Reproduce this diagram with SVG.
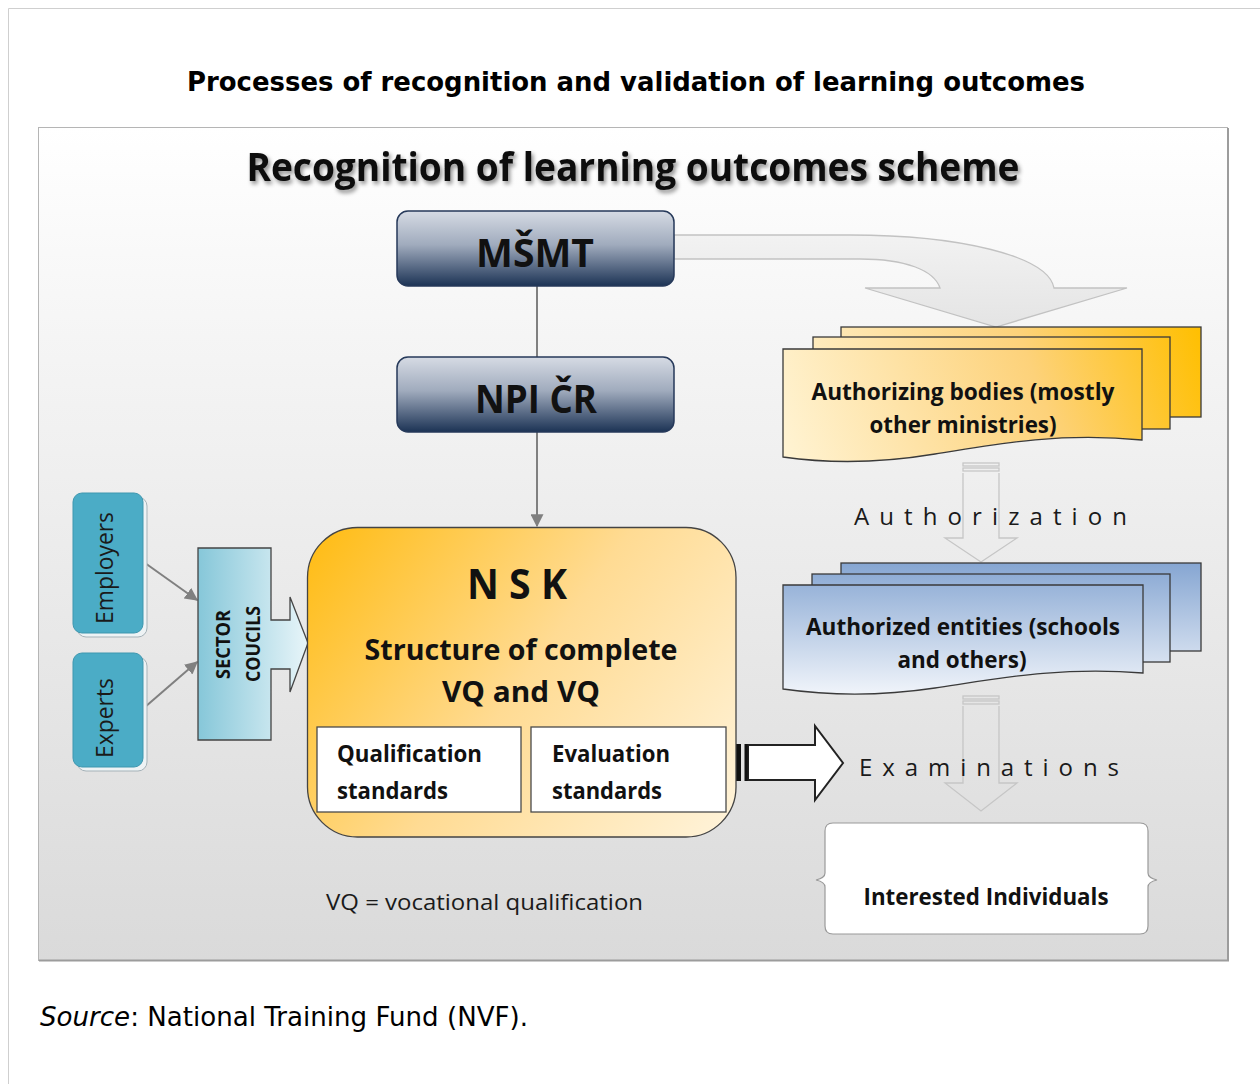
<svg xmlns="http://www.w3.org/2000/svg" width="1260" height="1084" viewBox="0 0 1260 1084">
  <style>
    .dv { font-family: "DejaVu Sans", sans-serif; fill: #000; }
    .cb { font-family: "Open Sans", "Noto Sans", sans-serif; font-weight: 700; fill: #111; }
    .cr { font-family: "Open Sans", "Noto Sans", sans-serif; font-weight: 400; fill: #1a1a1a; }
    .box-navy { fill: url(#navy); stroke: #26395a; stroke-width: 1.5; }
    .sheet-y { fill: url(#amber); stroke: #3a3a3a; stroke-width: 1.3; }
    .sheet-b { fill: url(#steel); stroke: #3a3a3a; stroke-width: 1.3; }
    .teal { fill: #4bacc6; stroke: #3f97af; stroke-width: 1; }
    .teal-edge { fill: #eef3f5; stroke: #a5b2b8; stroke-width: 1; }
    .link { stroke: #808080; stroke-width: 2; fill: none; }
    .hollow { fill: none; stroke: #c6c6c6; stroke-width: 1.3; }
    .std { fill: #fff; stroke: #4a4a4a; stroke-width: 1.3; }
  </style>
  <defs>
    <linearGradient id="bg" x1="0" y1="0" x2="0" y2="1">
      <stop offset="0" stop-color="#ffffff"/>
      <stop offset="0.25" stop-color="#f5f5f5"/>
      <stop offset="1" stop-color="#dadada"/>
    </linearGradient>
    <linearGradient id="navy" x1="0" y1="0" x2="0" y2="1">
      <stop offset="0" stop-color="#d6dbe4"/>
      <stop offset="0.45" stop-color="#a0abbd"/>
      <stop offset="1" stop-color="#1c3355"/>
    </linearGradient>
    <linearGradient id="amber" gradientUnits="userSpaceOnUse" x1="790" y1="465" x2="1200" y2="325">
      <stop offset="0" stop-color="#fff3d2"/>
      <stop offset="0.6" stop-color="#fdd27a"/>
      <stop offset="1" stop-color="#ffbf00"/>
    </linearGradient>
    <linearGradient id="steel" gradientUnits="userSpaceOnUse" x1="0" y1="563" x2="0" y2="694">
      <stop offset="0" stop-color="#86a6d2"/>
      <stop offset="1" stop-color="#f0f4fa"/>
    </linearGradient>
    <linearGradient id="nsk" gradientUnits="userSpaceOnUse" x1="307" y1="527" x2="736" y2="837">
      <stop offset="0" stop-color="#ffbb10"/>
      <stop offset="0.5" stop-color="#ffdb93"/>
      <stop offset="1" stop-color="#fff4dc"/>
    </linearGradient>
    <linearGradient id="sector" x1="0" y1="0" x2="1" y2="0">
      <stop offset="0" stop-color="#86c7d9"/>
      <stop offset="1" stop-color="#e8f5f9"/>
    </linearGradient>
    <linearGradient id="band" x1="0" y1="0" x2="0" y2="1">
      <stop offset="0" stop-color="#f2f2f2"/>
      <stop offset="1" stop-color="#e4e4e4"/>
    </linearGradient>
    <filter id="shadow" x="-5%" y="-30%" width="110%" height="160%">
      <feGaussianBlur in="SourceAlpha" stdDeviation="2.2"/>
      <feOffset dx="2" dy="3" result="b"/>
      <feFlood flood-color="#000" flood-opacity="0.45"/>
      <feComposite in2="b" operator="in"/>
      <feMerge><feMergeNode/><feMergeNode in="SourceGraphic"/></feMerge>
    </filter>
    <marker id="tip" viewBox="0 0 10 10" refX="9" refY="5" markerWidth="6.5" markerHeight="6.5" orient="auto">
      <path d="M0,0 L10,5 L0,10 Z" fill="#808080"/>
    </marker>
  </defs>

  <!-- page -->
  <rect x="0" y="0" width="1260" height="1084" fill="#fff"/>
  <path d="M8.5,1084 V8.5 H1260" fill="none" stroke="#cfcfcf" stroke-width="1"/>
  <text class="dv" x="636" y="91" font-size="26" font-weight="700" text-anchor="middle" textLength="898" lengthAdjust="spacingAndGlyphs">Processes of recognition and validation of learning outcomes</text>

  <!-- scheme panel -->
  <rect x="38.5" y="127.5" width="1189" height="833" fill="url(#bg)" stroke="#b5b5b5" stroke-width="1"/>
  <path d="M39,960.5 H1228 V128" fill="none" stroke="#9c9c9c" stroke-width="2"/>
  <text class="cb" x="633" y="181" font-size="39" text-anchor="middle" textLength="773" lengthAdjust="spacingAndGlyphs" filter="url(#shadow)">Recognition of learning outcomes scheme</text>

  <!-- connectors -->
  <g id="connectors">
    <line class="link" x1="537" y1="286" x2="537" y2="357"/>
    <line class="link" x1="537" y1="432" x2="537" y2="526" marker-end="url(#tip)"/>
    <line class="link" x1="145" y1="563" x2="197" y2="600" marker-end="url(#tip)"/>
    <line class="link" x1="145" y1="707" x2="197" y2="662" marker-end="url(#tip)"/>
    <!-- curved block arrow to the authorizing bodies -->
    <path d="M674,235 H850 C960,235 1048,256 1054,288 H1127 L996,327 L865,288 H940 C934,270 905,259 860,259 H674 Z" fill="url(#band)" stroke="#c2c2c2" stroke-width="1.3"/>
    <!-- hollow arrow: authorization -->
    <g class="hollow">
      <rect x="963" y="463" width="36" height="3"/>
      <rect x="963" y="468" width="36" height="3"/>
      <path d="M963,473 V538 H945 L981,562 L1017,538 H999 V473"/>
    </g>
    <!-- hollow arrow: examinations -->
    <g class="hollow">
      <rect x="963" y="696" width="36" height="3"/>
      <rect x="963" y="701" width="36" height="3"/>
      <path d="M963,706 V783 H945 L981,811 L1017,783 H999 V706"/>
    </g>
    <!-- striped block arrow out of NSK -->
    <path d="M748,745 H815 V726 L843,763 L815,800 V780 H748 Z" fill="#fff" stroke="#222" stroke-width="2"/>
    <rect x="735" y="744" width="6" height="37" fill="#111"/>
    <rect x="744.5" y="744" width="3" height="37" fill="#111"/>
  </g>

  <text class="cr" x="854" y="525" font-size="24" textLength="273" lengthAdjust="spacing">Authorization</text>
  <text class="cr" x="859" y="776" font-size="24" textLength="260" lengthAdjust="spacing">Examinations</text>

  <g id="msmt">
    <rect class="box-navy" x="397" y="211" width="277" height="75" rx="11"/>
    <text class="cb" x="535" y="267" font-size="39" text-anchor="middle" textLength="118" lengthAdjust="spacingAndGlyphs">MŠMT</text>
  </g>

  <g id="npi">
    <rect class="box-navy" x="397" y="357" width="277" height="75" rx="11"/>
    <text class="cb" x="536" y="413" font-size="39" text-anchor="middle" textLength="122" lengthAdjust="spacingAndGlyphs">NPI ČR</text>
  </g>

  <g id="authorizing-bodies">
    <rect class="sheet-y" x="841" y="327" width="360" height="90"/>
    <rect class="sheet-y" x="813" y="337" width="357" height="92"/>
    <path class="sheet-y" d="M783,349 H1142 V440 C1060,432 995,444 935,454 C875,464 825,463 783,457 Z"/>
    <text class="cb" x="963" y="400" font-size="24" text-anchor="middle" textLength="303" lengthAdjust="spacingAndGlyphs">Authorizing bodies (mostly</text>
    <text class="cb" x="963" y="433" font-size="24" text-anchor="middle" textLength="187" lengthAdjust="spacingAndGlyphs">other ministries)</text>
  </g>

  <g id="authorized-entities">
    <rect class="sheet-b" x="841" y="563" width="360" height="88"/>
    <rect class="sheet-b" x="812" y="574" width="358" height="88"/>
    <path class="sheet-b" d="M783,585 H1143 V673 C1060,666 995,679 935,688 C875,697 825,695 783,689 Z"/>
    <text class="cb" x="963" y="635" font-size="24" text-anchor="middle" textLength="314" lengthAdjust="spacingAndGlyphs">Authorized entities (schools</text>
    <text class="cb" x="962" y="668" font-size="24" text-anchor="middle" textLength="129" lengthAdjust="spacingAndGlyphs">and others)</text>
  </g>

  <g id="interested-individuals">
    <path d="M833,823 H1140 Q1148,823 1148,831 V873 Q1148,878 1157,880 Q1148,882 1148,887 V926 Q1148,934 1140,934 H833 Q825,934 825,926 V887 Q825,882 816,880 Q825,878 825,873 V831 Q825,823 833,823 Z" fill="#fff" stroke="#9a9a9a" stroke-width="1.2"/>
    <text class="cb" x="986" y="905" font-size="24" text-anchor="middle" textLength="245" lengthAdjust="spacingAndGlyphs">Interested Individuals</text>
  </g>

  <g id="employers">
    <rect class="teal-edge" x="77" y="497" width="70" height="140" rx="9"/>
    <rect class="teal" x="73" y="493" width="70" height="140" rx="9"/>
    <text class="cr" transform="translate(113,568) rotate(-90)" font-size="23" text-anchor="middle" textLength="112" lengthAdjust="spacingAndGlyphs">Employers</text>
  </g>

  <g id="experts">
    <rect class="teal-edge" x="77" y="657" width="70" height="114" rx="9"/>
    <rect class="teal" x="73" y="653" width="70" height="114" rx="9"/>
    <text class="cr" transform="translate(113,718) rotate(-90)" font-size="23" text-anchor="middle" textLength="80" lengthAdjust="spacingAndGlyphs">Experts</text>
  </g>

  <g id="sector-councils">
    <path d="M198,548 H271 V620 H290 V597 L308,643 L290,692 V669 H271 V740 H198 Z" fill="url(#sector)" stroke="#444" stroke-width="1.3"/>
    <text class="cb" transform="translate(230,644.5) rotate(-90)" font-size="19" text-anchor="middle" textLength="69" lengthAdjust="spacingAndGlyphs">SECTOR</text>
    <text class="cb" transform="translate(260,644) rotate(-90)" font-size="19" text-anchor="middle" textLength="76" lengthAdjust="spacingAndGlyphs">COUCILS</text>
  </g>

  <g id="nsk">
    <rect x="307.5" y="527.5" width="428.5" height="309.5" rx="50" fill="url(#nsk)" stroke="#444" stroke-width="1.3"/>
    <text class="cb" x="517" y="599" font-size="41" text-anchor="middle" textLength="100" lengthAdjust="spacingAndGlyphs">N S K</text>
    <text class="cb" x="521" y="660" font-size="28" text-anchor="middle" textLength="313" lengthAdjust="spacingAndGlyphs">Structure of complete</text>
    <text class="cb" x="521" y="702" font-size="28" text-anchor="middle" textLength="158" lengthAdjust="spacingAndGlyphs">VQ and VQ</text>
    <rect class="std" x="317" y="727" width="204" height="85"/>
    <rect class="std" x="531" y="727" width="195" height="85"/>
    <text class="cb" x="337" y="762" font-size="23.5" textLength="145" lengthAdjust="spacingAndGlyphs">Qualification</text>
    <text class="cb" x="337" y="799" font-size="23.5" textLength="111" lengthAdjust="spacingAndGlyphs">standards</text>
    <text class="cb" x="552" y="762" font-size="23.5" textLength="118" lengthAdjust="spacingAndGlyphs">Evaluation</text>
    <text class="cb" x="552" y="799" font-size="23.5" textLength="110" lengthAdjust="spacingAndGlyphs">standards</text>
  </g>

  <text class="cr" x="326" y="910" font-size="22" textLength="317" lengthAdjust="spacingAndGlyphs">VQ = vocational qualification</text>

  <text class="dv" x="40" y="1026" font-size="26" textLength="488" lengthAdjust="spacingAndGlyphs"><tspan font-style="italic">Source</tspan>: National Training Fund (NVF).</text>
</svg>
